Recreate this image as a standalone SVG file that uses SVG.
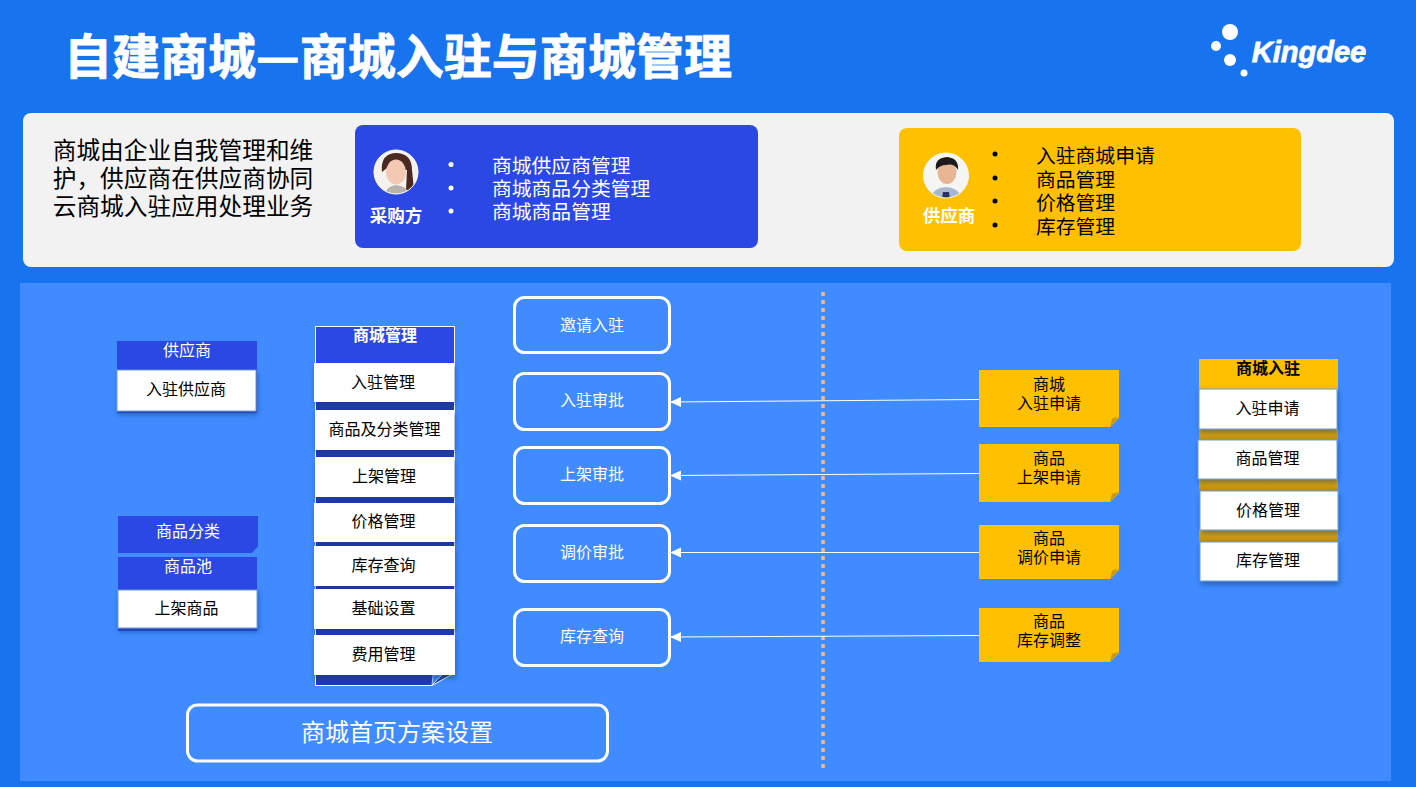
<svg xmlns="http://www.w3.org/2000/svg" width="1416" height="787" viewBox="0 0 1416 787">
<defs>
<style>
text{font-family:"Noto Sans CJK SC","Liberation Sans",sans-serif;text-anchor:middle}
.w{fill:#fff}.k{fill:#000}
.s16{font-size:16px}
.b{font-weight:700}
.l{text-anchor:start}
.card{fill:#fff;filter:url(#sh)}
.cardb{fill:#fff;stroke:#6d9ccf;stroke-width:1;filter:url(#sh)}
.blue{fill:#2b47e4}.gold{fill:#ffc000}
.gband{fill:url(#gb)}
.round{fill:#3f8bff;stroke:#fff;stroke-width:3}
.conn{stroke:#fff;stroke-width:1;fill:none;marker-start:url(#arr)}
</style>
<linearGradient id="gb" x1="0" y1="0" x2="0" y2="1"><stop offset="0" stop-color="#eeb104"/><stop offset="1" stop-color="#bd8d0d"/></linearGradient>
<marker id="arr" viewBox="0 0 12 12" refX="1" refY="6" markerWidth="12" markerHeight="12" markerUnits="userSpaceOnUse" orient="auto"><path d="M12 1L1 6L12 11Z" fill="#fff"/></marker>
<filter id="sh" x="-10%" y="-15%" width="120%" height="140%"><feDropShadow dx="1" dy="3" stdDeviation="2.5" flood-color="#123a80" flood-opacity=".55"/></filter>
<clipPath id="c1"><circle cx="396" cy="172" r="22"/></clipPath>
<clipPath id="c2"><circle cx="946" cy="175.500" r="22.500"/></clipPath>
</defs>
<rect width="1416" height="787" fill="#1873ee"/>
<text id="title" x="398" y="74" font-size="47.500" class="w b" textLength="668" lengthAdjust="spacingAndGlyphs" stroke="#fff" stroke-width=".8">自建商城—商城入驻与商城管理</text>
<g id="logo" fill="#fff">
<circle cx="1230" cy="32" r="8"/><circle cx="1216" cy="46" r="5"/><circle cx="1230" cy="60" r="6"/><circle cx="1244" cy="73" r="3.500"/>
<text x="1309" y="62" font-size="29" font-weight="700" font-style="italic" stroke="#fff" stroke-width=".8" style="font-family:'Liberation Sans',sans-serif">Kingdee</text>
</g>
<rect id="top-panel" x="23" y="113" width="1371" height="154" rx="8" fill="#f2f2f2"/>
<g id="intro" font-size="23.700" fill="#000">
<text x="183" y="159">商城由企业自我管理和维</text>
<text x="183" y="187">护，供应商在供应商协同</text>
<text x="183" y="215">云商城入驻应用处理业务</text>
</g>
<g id="buyer">
<rect x="355" y="125" width="403" height="123" rx="8" class="blue"/>
<g clip-path="url(#c1)"><rect x="374" y="150" width="44" height="44" fill="#f4f1ee"/><path d="M382 172Q380 153 397 153Q412 154 412 170L414 190L406 190L407 170L387 168Z" fill="#4a2a20"/><ellipse cx="396" cy="172" rx="10" ry="12.500" fill="#f3c9b4"/><path d="M384 196Q386 186 396 185Q408 186 410 196Z" fill="#b7b2ab"/></g>
<circle cx="396" cy="172" r="22" fill="none" stroke="#fff"/>
<text x="396" y="222" font-size="17.500" class="w b">采购方</text>
<g fill="#fff"><circle cx="451" cy="164.500" r="2.500"/><circle cx="451" cy="188" r="2.500"/><circle cx="451" cy="211" r="2.500"/></g>
<g font-size="19.800" fill="#fff"><text class="l" x="492" y="173">商城供应商管理</text><text class="l" x="492" y="196">商城商品分类管理</text><text class="l" x="492" y="219">商城商品管理</text></g>
</g>
<g id="supplier">
<rect x="899" y="128" width="402" height="123" rx="8" class="gold"/>
<g clip-path="url(#c2)"><rect x="923" y="153" width="46" height="46" fill="#f5f6f3"/><path d="M930 199Q932 188 946 187Q960 188 962 199Z" fill="#a9b7cf"/><ellipse cx="947" cy="172" rx="9.500" ry="12" fill="#e8b594"/><path d="M936 170Q934 158 947 157Q959 158 958 170Q954 163 946 165Q940 165 936 170Z" fill="#1d1a1c"/><path d="M943 192h6l1 7h-8Z" fill="#2d3550"/></g>
<circle cx="946" cy="175.500" r="22.500" fill="none" stroke="#f8f8f6"/>
<text x="949" y="222" font-size="17.500" class="w b">供应商</text>
<g fill="#000"><circle cx="995" cy="154" r="2.500"/><circle cx="995" cy="178" r="2.500"/><circle cx="995" cy="201" r="2.500"/><circle cx="995" cy="225" r="2.500"/></g>
<g font-size="19.800" fill="#000"><text class="l" x="1036" y="162.500">入驻商城申请</text><text class="l" x="1036" y="186.500">商品管理</text><text class="l" x="1036" y="209.500">价格管理</text><text class="l" x="1036" y="233.500">库存管理</text></g>
</g>
<rect id="main-panel" x="20" y="283" width="1371" height="498" fill="#3f8bff"/>
<line id="divider" x1="823" y1="292" x2="823" y2="770" stroke="#f7b97f" stroke-width="3.500" stroke-dasharray="4 4"/>
<g id="supplier-card">
<rect x="117" y="341" width="140" height="72" class="blue"/>
<text x="187" y="355.500" class="w s16">供应商</text>
<rect x="117" y="370" width="139" height="41" class="cardb"/>
<text x="186" y="395" class="k s16">入驻供应商</text>
</g>
<g id="category-card">
<path d="M118 516H258V546L252 553H118Z" class="blue"/>
<text x="188" y="537" class="w s16">商品分类</text>
</g>
<g id="pool-card">
<rect x="118" y="557" width="139" height="74" class="blue"/>
<text x="188" y="572" class="w s16">商品池</text>
<rect x="118" y="590" width="139" height="38" class="cardb"/>
<text x="186.500" y="614" class="k s16">上架商品</text>
</g>
<g id="mall-manage">
<path d="M315.500 326.500H454.500V673L432 685.500H315.500Z" fill="#2338b8" stroke="#fff"/>
<rect x="316" y="327" width="138" height="36" class="blue"/>
<path d="M432 685L442 675H433Z" fill="#3f8bff" stroke="#dfe8f8" stroke-width=".8"/>
<text x="385" y="341" font-size="16" class="w b">商城管理</text>
<g id="m1"><rect x="314" y="363" width="140" height="39" class="card"/><text x="383" y="388" class="k s16">入驻管理</text></g>
<g id="m2"><rect x="315" y="410" width="139" height="40" class="card"/><text x="384.500" y="435" class="k s16">商品及分类管理</text></g>
<g id="m3"><rect x="315" y="457" width="139" height="40" class="card"/><text x="384" y="482" class="k s16">上架管理</text></g>
<g id="m4"><rect x="314" y="503" width="141" height="39" class="card"/><text x="383.500" y="527" class="k s16">价格管理</text></g>
<g id="m5"><rect x="314" y="546" width="141" height="40" class="card"/><text x="383.500" y="571" class="k s16">库存查询</text></g>
<g id="m6"><rect x="314" y="589" width="141" height="40" class="card"/><text x="383.500" y="614" class="k s16">基础设置</text></g>
<g id="m7"><rect x="314" y="635" width="141" height="40" class="card"/><text x="383.500" y="660" class="k s16">费用管理</text></g>
</g>
<g id="homepage"><rect x="187.500" y="705" width="420" height="56" rx="10" class="round"/><text x="397" y="741" class="w" font-size="24">商城首页方案设置</text></g>
<g id="n-invite"><rect x="514.500" y="297.500" width="155" height="55" rx="10" class="round"/><text x="592" y="330.500" class="w s16">邀请入驻</text></g>
<g id="n-join"><rect x="514.500" y="373.500" width="155" height="56" rx="10" class="round"/><text x="592" y="406" class="w s16">入驻审批</text></g>
<g id="n-list"><rect x="514.500" y="447.500" width="155" height="56" rx="10" class="round"/><text x="592" y="480" class="w s16">上架审批</text></g>
<g id="n-price"><rect x="514.500" y="525.500" width="155" height="56" rx="10" class="round"/><text x="592" y="558" class="w s16">调价审批</text></g>
<g id="n-stock"><rect x="514.500" y="609.500" width="155" height="56" rx="10" class="round"/><text x="592" y="642" class="w s16">库存查询</text></g>
<g id="connectors">
<line x1="670" y1="402" x2="979" y2="399.500" class="conn"/>
<line x1="670" y1="475.500" x2="979" y2="473.500" class="conn"/>
<line x1="670" y1="552.500" x2="979" y2="552.500" class="conn"/>
<line x1="670" y1="637" x2="979" y2="635.500" class="conn"/>
</g>
<g id="a-join"><path d="M979 370H1119V418L1110 427H979Z" class="gold"/><path d="M1110 427L1112 418.500L1119 417Z" fill="#c99a14"/><text x="1049" y="389.500" class="k s16">商城</text><text x="1049" y="409" class="k s16">入驻申请</text></g>
<g id="a-list"><path d="M979 444H1119V493L1110 502H979Z" class="gold"/><path d="M1110 502L1112 493.500L1119 492Z" fill="#c99a14"/><text x="1049" y="464" class="k s16">商品</text><text x="1049" y="483" class="k s16">上架申请</text></g>
<g id="a-price"><path d="M979 525H1119V570L1110 579H979Z" class="gold"/><path d="M1110 579L1112 570.500L1119 569Z" fill="#c99a14"/><text x="1049" y="544" class="k s16">商品</text><text x="1049" y="563" class="k s16">调价申请</text></g>
<g id="a-stock"><path d="M979 608H1119V653L1110 662H979Z" class="gold"/><path d="M1110 662L1112 653.500L1119 652Z" fill="#c99a14"/><text x="1049" y="627" class="k s16">商品</text><text x="1049" y="646" class="k s16">库存调整</text></g>
<g id="mall-join">
<rect x="1199" y="359" width="139" height="32" class="gold"/>
<rect x="1199" y="429" width="139" height="12" class="gband"/><rect x="1199" y="479" width="139" height="12" class="gband"/><rect x="1199" y="530" width="139" height="12" class="gband"/>
<text x="1268" y="374" font-size="16" class="k b">商城入驻</text>
<g id="j1"><rect x="1199" y="389" width="138" height="40" class="cardb"/><text x="1267.500" y="414" class="k s16">入驻申请</text></g>
<g id="j2"><rect x="1198" y="440" width="139" height="39" class="cardb"/><text x="1267.500" y="464" class="k s16">商品管理</text></g>
<g id="j3"><rect x="1200" y="491" width="138" height="39" class="cardb"/><text x="1268" y="516" class="k s16">价格管理</text></g>
<g id="j4"><rect x="1200" y="542" width="138" height="39" class="cardb"/><text x="1268" y="566" class="k s16">库存管理</text></g>
</g>
</svg>
